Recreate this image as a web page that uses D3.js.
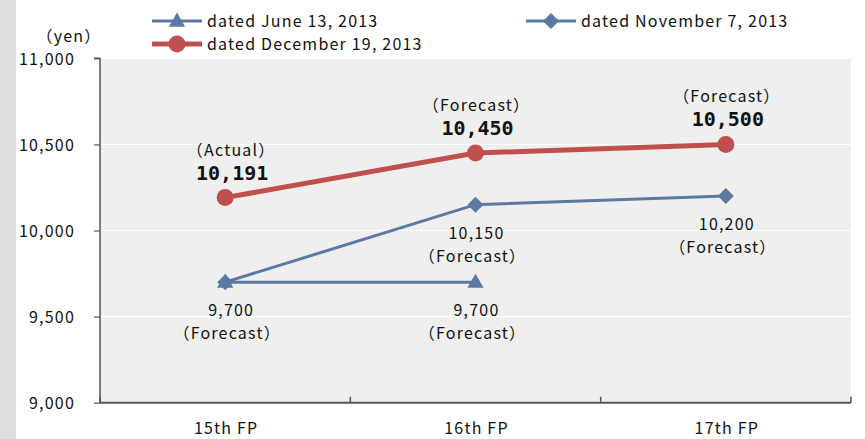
<!DOCTYPE html>
<html>
<head>
<meta charset="utf-8">
<script src="https://cdn.jsdelivr.net/npm/d3@7"></script>
<style>
  html, body { margin: 0; padding: 0; background: #ffffff; }
  svg { display: block; }
  text { font-family: "Noto Sans CJK JP", "Noto Sans", sans-serif; fill: #111; letter-spacing: 1.2px; }
  .num { font-family: "DejaVu Sans Mono", monospace; font-weight: bold; letter-spacing: 0; }
</style>
</head>
<body>
<svg id="chart" width="865" height="439"></svg>
<script>
// Distribution per unit by fiscal period, as announced on three dates
const categories = ["15th FP", "16th FP", "17th FP"];
const juneValues = [9700, 9700, null];
const novValues = [9700, 10150, 10200];
const decValues = [10191, 10450, 10500];
const juneNotes = ["（Forecast）", "（Forecast）", null];
const novNotes = [null, "（Forecast）", "（Forecast）"];
const decNotes = ["（Actual）", "（Forecast）", "（Forecast）"];
const yTicks = [9000, 9500, 10000, 10500, 11000];
const seriesNames = ["dated June 13, 2013", "dated November 7, 2013", "dated December 19, 2013"];
const unitLabel = "（yen）";

const BLUE = "#5b79a3";
const RED = "#c0504d";
const FS = 16;

const svg = d3.select("#chart");
const H = 439;
const plot = { left: 100, right: 851, top: 58.3, bottom: 402.7 };

// gray strip along the left edge
svg.append("rect").attr("x", 0).attr("y", 0).attr("width", 16).attr("height", H).attr("fill", "#dedede");

const x = d3.scaleBand().domain(categories).range([plot.left, plot.right]);
const y = d3.scaleLinear().domain([9000, 11000]).range([plot.bottom, plot.top]);
const cx = c => x(c) + x.bandwidth() / 2;

// plot background
svg.append("rect")
  .attr("x", plot.left).attr("y", plot.top)
  .attr("width", plot.right - plot.left).attr("height", plot.bottom - plot.top)
  .attr("fill", "#efefef");

// horizontal gridlines
svg.append("g").selectAll("line").data(yTicks.filter(t => t > 9000)).join("line")
  .attr("x1", plot.left).attr("x2", plot.right)
  .attr("y1", d => y(d)).attr("y2", d => y(d))
  .attr("stroke", "#ffffff").attr("stroke-width", 1.2);

// y axis
const yAxis = d3.axisLeft(y).tickValues(yTicks).tickFormat(d3.format(",")).tickSize(6).tickPadding(19);
const gy = svg.append("g").attr("transform", `translate(${plot.left},0)`).call(yAxis);
gy.select(".domain").attr("stroke", "#555").attr("stroke-width", 1.5).attr("d", `M-6,${plot.top}H0V${plot.bottom}`);
gy.selectAll(".tick line").attr("stroke", "#555").attr("stroke-width", 1.2);
gy.selectAll(".tick text").attr("font-size", FS).attr("font-family", "'Noto Sans CJK JP', sans-serif")
  .attr("fill", "#111").attr("dy", "0.36em");

// x axis: boundary ticks pointing into the plot
const gx = svg.append("g").attr("transform", `translate(0,${plot.bottom})`);
gx.append("line").attr("x1", plot.left).attr("x2", plot.right).attr("y1", 0).attr("y2", 0)
  .attr("stroke", "#555").attr("stroke-width", 2);
const bounds = categories.map(c => x(c)).concat([plot.right]);
gx.selectAll("line.b").data(bounds).join("line").attr("class", "b")
  .attr("x1", d => d).attr("x2", d => d).attr("y1", 0).attr("y2", -6)
  .attr("stroke", "#555").attr("stroke-width", 1.5);
gx.selectAll("text").data(categories).join("text")
  .attr("x", d => cx(d) + 1).attr("y", 31)
  .attr("text-anchor", "middle").attr("font-size", FS).text(d => d);

// unit label
svg.append("text").attr("x", 69).attr("y", 42).attr("text-anchor", "middle")
  .attr("font-size", FS).text(unitLabel);

// marker shapes
const triPath = d3.symbol().type(d3.symbolTriangle).size(115)();
const diaPath = "M0,-8L8,0L0,8L-8,0Z";

function drawSeries(values, color, width, marker) {
  const pts = categories.map((c, i) => ({ c, v: values[i] })).filter(d => d.v != null);
  const line = d3.line().x(d => cx(d.c)).y(d => y(d.v));
  const g = svg.append("g");
  g.append("path").datum(pts).attr("d", line).attr("fill", "none")
    .attr("stroke", color).attr("stroke-width", width);
  const m = g.selectAll("g.m").data(pts).join("g").attr("class", "m")
    .attr("transform", d => `translate(${cx(d.c)},${y(d.v)})`);
  marker(m, color);
}
const circleMarker = (sel, color) => sel.append("circle").attr("r", 8.5).attr("fill", color);
const triMarker = (sel, color) => sel.append("path").attr("d", triPath).attr("fill", color).attr("transform", "translate(0,1)");
const diaMarker = (sel, color) => sel.append("path").attr("d", diaPath).attr("fill", color);

drawSeries(novValues, BLUE, 3, diaMarker);
drawSeries(juneValues, BLUE, 3, triMarker);
drawSeries(decValues, RED, 5, circleMarker);

// value annotations
const fmt = d3.format(",");
const ann = svg.append("g");
// the first period's labels sit a little right of the point
const shift = i => (i === 0 ? 6 : 1);
// December: note above, bold value below it, both above the point
categories.forEach((c, i) => {
  const px = cx(c) + shift(i), py = y(decValues[i]);
  ann.append("text").attr("text-anchor", "middle").attr("font-size", FS)
    .attr("x", px).attr("y", py - 42).text(decNotes[i]);
  ann.append("text").attr("class", "num").attr("text-anchor", "middle")
    .attr("x", px + 1).attr("y", py - 18).attr("font-size", 20).text(fmt(decValues[i]));
});
// November and June: value then note below the point
function lowerLabels(values, notes) {
  categories.forEach((c, i) => {
    if (!notes[i]) return;
    const px = cx(c) + shift(i), py = y(values[i]);
    ann.append("text").attr("text-anchor", "middle").attr("font-size", FS)
      .attr("x", px).attr("y", py + 34).text(fmt(values[i]));
    ann.append("text").attr("text-anchor", "middle").attr("font-size", FS)
      .attr("x", px - 4).attr("y", py + 57).text(notes[i]);
  });
}
lowerLabels(novValues, novNotes);
lowerLabels(juneValues, juneNotes);

// legend
const legendItems = [
  { name: seriesNames[0], color: BLUE, w: 3, x: 152, y: 21, mk: triMarker },
  { name: seriesNames[1], color: BLUE, w: 3, x: 526, y: 21, mk: diaMarker },
  { name: seriesNames[2], color: RED, w: 5, x: 152, y: 44, mk: circleMarker }
];
const lg = svg.append("g").selectAll("g").data(legendItems).join("g")
  .attr("transform", d => `translate(${d.x},${d.y})`);
lg.append("line").attr("x1", 0).attr("x2", 50).attr("y1", 0).attr("y2", 0)
  .attr("stroke", d => d.color).attr("stroke-width", d => d.w);
lg.each(function(d) {
  const m = d3.select(this).append("g").attr("transform", "translate(25,0)");
  d.mk(m, d.color);
});
lg.append("text").attr("x", 55).attr("y", 0).attr("dy", "0.36em")
  .attr("font-size", FS).text(d => d.name);
</script>
</body>
</html>
